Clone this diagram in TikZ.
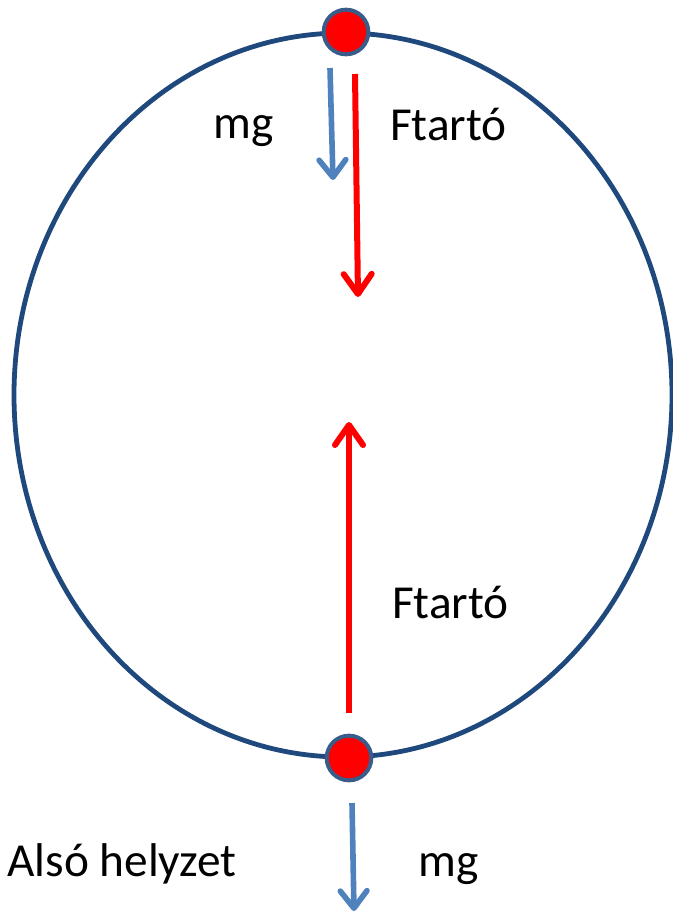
\documentclass[tikz,border=0pt]{standalone}
\usepackage{fontspec}
\setmainfont{Carlito}
\usetikzlibrary{arrows.meta}
\definecolor{orbit}{RGB}{31,73,125}
\definecolor{ballrim}{RGB}{56,93,138}
\definecolor{gblue}{RGB}{79,129,189}
\definecolor{fred}{RGB}{255,0,0}
\tikzset{
  ball/.style={circle, draw=ballrim, fill=fred, line width=3pt, minimum size=33.5pt, inner sep=0pt},
  orbitline/.style={draw=orbit, line width=3.6pt},
  gforce/.style={draw=gblue, line width=4.2pt, -{Straight Barb[length=13pt,width=20pt,round]}},
  rforce/.style={draw=fred, line width=4.5pt, -{Straight Barb[length=15pt,width=21pt,round]}},
  lbl/.style={anchor=base west, inner sep=0pt, font=\fontsize{35.5}{42}\selectfont}
}
\begin{document}
\begin{tikzpicture}[x=0.75pt,y=-0.75pt]
\useasboundingbox (0,0) rectangle (673,914);
\path[orbitline] (343,395) ellipse [x radius=329, y radius=362];
\node[ball] (topball) at (346,32) {};
\node[ball] (botball) at (349,758) {};
% top forces
\coordinate (mgTs) at (330,68);
\coordinate (mgTe) at (333,180);
\coordinate (fTs) at (355,74);
\coordinate (fTe) at (358,297);
\draw[gforce] (mgTs) -- (mgTe);
\draw[rforce] (fTs) -- (fTe);
% bottom forces
\coordinate (fBs) at (349,713);
\coordinate (fBe) at (349,422);
\coordinate (mgBs) at (352,803);
\coordinate (mgBe) at (354,911);
\draw[rforce] (fBs) -- (fBe);
\draw[gforce] (mgBs) -- (mgBe);
% labels
\node[lbl] (mgtop) at (213,138) {mg};
\node[lbl] (ftop) at (390,140) {Ftartó};
\node[lbl] (fbot) at (392,618) {Ftartó};
\node[lbl] (also) at (7,876) {Alsó helyzet};
\node[lbl] (mgbot) at (418,876) {mg};
\end{tikzpicture}
\end{document}
